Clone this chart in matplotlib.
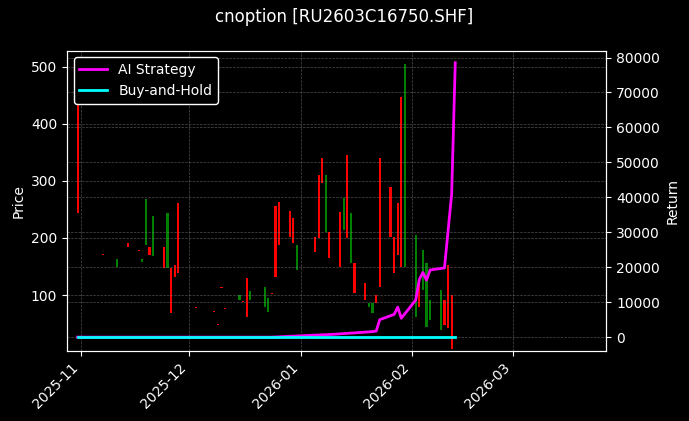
import numpy as np
import pandas as pd
import matplotlib
matplotlib.use('Agg')
import matplotlib.pyplot as plt
import matplotlib.dates as mdates

plt.style.use('dark_background')

# candles (date, open, close)
candle_dates = ['2025-10-31', '2025-11-03', '2025-11-05', '2025-11-07', '2025-11-10', '2025-11-11',
                '2025-11-13', '2025-11-14', '2025-11-17', '2025-11-18', '2025-11-19', '2025-11-20',
                '2025-11-21', '2025-11-24', '2025-11-25', '2025-11-26', '2025-11-27', '2025-11-28',
                '2025-12-02', '2025-12-03', '2025-12-04', '2025-12-08', '2025-12-09', '2025-12-10',
                '2025-12-11', '2025-12-15', '2025-12-16', '2025-12-17', '2025-12-18', '2025-12-22',
                '2025-12-23', '2025-12-24', '2025-12-25', '2025-12-26', '2025-12-29', '2025-12-30',
                '2025-12-31', '2026-01-05', '2026-01-06', '2026-01-07', '2026-01-08', '2026-01-09',
                '2026-01-12', '2026-01-13', '2026-01-14', '2026-01-15', '2026-01-16', '2026-01-19',
                '2026-01-20', '2026-01-21', '2026-01-22', '2026-01-23', '2026-01-26', '2026-01-27',
                '2026-01-28', '2026-01-29', '2026-01-30', '2026-02-02', '2026-02-03', '2026-02-04',
                '2026-02-05', '2026-02-06', '2026-02-09', '2026-02-10', '2026-02-11', '2026-02-12']
opens = [437, 167, 132, 172, 230, 149, 160, 191, 179, 158, 188, 184,
         169, 184, 147, 147, 153, 262, 125, 79, 80, 72, 49, 114,
         77, 91, 89, 130, 91, 79, 70, 103, 256, 263, 248, 235,
         144, 202, 311, 340, 211, 211, 246, 214, 346, 156, 156, 121,
         79, 68, 100, 340, 290, 202, 262, 446, 149, 61, 121, 109,
         44, 56, 39, 91, 153, 100]
closes = [244, 166, 131, 171, 229, 163, 159, 184, 178, 163, 269, 170,
          238, 147, 244, 68, 132, 139, 124, 78, 79, 71, 48, 113,
          76, 100, 88, 61, 107, 114, 95, 102, 132, 188, 202, 191,
          188, 175, 200, 297, 311, 165, 149, 270, 200, 244, 103, 91,
          86, 86, 86, 114, 202, 139, 170, 149, 504, 205, 79, 179,
          156, 91, 109, 47, 42, 5]

# returns
ret_dates = ['2025-10-31', '2025-12-24', '2026-01-10', '2026-01-20', '2026-01-22', '2026-01-23',
             '2026-01-27', '2026-01-28', '2026-01-29', '2026-02-02', '2026-02-03', '2026-02-04',
             '2026-02-05', '2026-02-06', '2026-02-10', '2026-02-12', '2026-02-13']
ai_ret = [0, 0, 800, 1500, 1700, 5000, 6500, 8600, 5400, 10600, 16500, 18500,
          16300, 19200, 19800, 41000, 78500]
bh_dates = ['2025-10-31', '2026-02-13']
bh_ret = [0, 0]

cd = pd.to_datetime(candle_dates)
o = np.array(opens)
c = np.array(closes)
up = c >= o

fig, ax = plt.subplots(figsize=(6.89, 4.21), dpi=100)
fig.patch.set_facecolor('black')
ax.bar(cd[up], c[up] - o[up], bottom=o[up], width=0.6, color='#008000')
ax.bar(cd[~up], o[~up] - c[~up], bottom=c[~up], width=0.6, color='#ff0000')
ax.set_ylabel('Price')
ax.set_ylim(2, 528)
ax.grid(True, color='gray', linestyle='--', linewidth=0.5, alpha=0.6)
ax.set_xlim(pd.Timestamp('2025-10-28'), pd.Timestamp('2026-03-27'))
ax.xaxis.set_major_locator(mdates.MonthLocator())
ax.xaxis.set_major_formatter(mdates.DateFormatter('%Y-%m'))
plt.setp(ax.get_xticklabels(), rotation=45, ha='right')

ax2 = ax.twinx()
ax2.plot(pd.to_datetime(ret_dates), ai_ret, color='#ff00ff', linewidth=2, label='AI Strategy')
ax2.plot(pd.to_datetime(bh_dates), bh_ret, color='#00ffff', linewidth=2, label='Buy-and-Hold')
ax2.set_ylabel('Return')
ax2.set_ylim(-4000, 82000)
ax2.grid(True, color='gray', linestyle='--', linewidth=0.5, alpha=0.6)
ax2.legend(loc='upper left', facecolor='black', edgecolor='white', framealpha=1)

fig.suptitle('cnoption [RU2603C16750.SHF]')
fig.subplots_adjust(left=0.097, right=0.88, top=0.88, bottom=0.166)
fig.savefig('out.png', dpi=100)
